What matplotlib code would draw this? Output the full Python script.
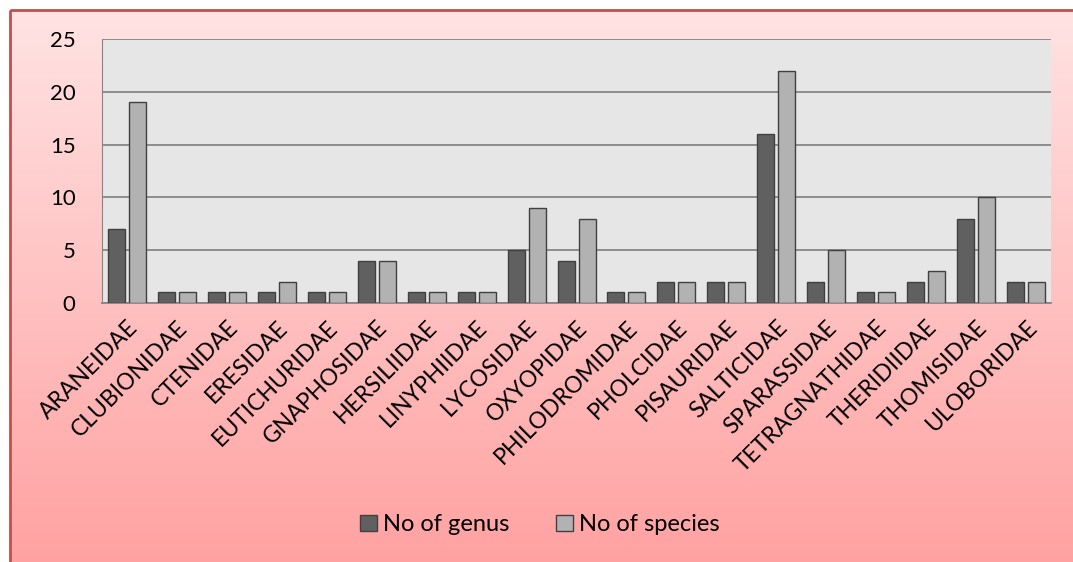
import numpy as np
import matplotlib
matplotlib.use("Agg")
import matplotlib.pyplot as plt
from matplotlib.patches import Rectangle

# datos
familias = ["ARANEIDAE", "CLUBIONIDAE", "CTENIDAE", "ERESIDAE", "EUTICHURIDAE",
            "GNAPHOSIDAE", "HERSILIIDAE", "LINYPHIIDAE", "LYCOSIDAE", "OXYOPIDAE",
            "PHILODROMIDAE", "PHOLCIDAE", "PISAURIDAE", "SALTICIDAE", "SPARASSIDAE",
            "TETRAGNATHIDAE", "THERIDIIDAE", "THOMISIDAE", "ULOBORIDAE"]
genus = [7, 1, 1, 1, 1, 4, 1, 1, 5, 4, 1, 2, 2, 16, 2, 1, 2, 8, 2]
species = [19, 1, 1, 2, 1, 4, 1, 1, 9, 8, 1, 2, 2, 22, 5, 1, 3, 10, 2]

plt.rcParams['font.family'] = ['Lato', 'DejaVu Sans']

fig = plt.figure(figsize=(10.73, 5.62), dpi=100)

# fondo degradado rosa con borde rojo
bg = fig.add_axes([0, 0, 1, 1], zorder=-10)
bg.set_xlim(0, 1073)
bg.set_ylim(562, 0)
bg.axis("off")
grad = np.linspace(0, 1, 256).reshape(-1, 1)
top = np.array([1.0, 0.89, 0.89])
bot = np.array([1.0, 0.63, 0.63])
img = top + grad[..., None] * (bot - top)
bg.imshow(img, extent=[10, 1080, 570, 10], aspect="auto", zorder=0)
bg.add_patch(Rectangle((10, 10), 1075, 560, fill=False, edgecolor="#c0504d", lw=2, zorder=1))

ax = fig.add_axes([0.0951, 0.4609, 0.8844, 0.4697])
ax.set_facecolor("#e6e6e6")
x = np.arange(len(familias))
ancho = 0.34
ax.bar(x - 0.21, genus, ancho, color="#606060", edgecolor="#404040", lw=1, label="No of genus", zorder=3)
ax.bar(x + 0.21, species, ancho, color="#b2b2b2", edgecolor="#404040", lw=1, label="No of species", zorder=3)

ax.set_ylim(0, 25)
ax.set_xlim(-0.5, len(familias) - 0.5)
ax.set_yticks([0, 5, 10, 15, 20, 25])
ax.yaxis.grid(True, color="#868686", lw=1.3, zorder=1)
ax.set_axisbelow(True)
for s in ["top", "right"]:
    ax.spines[s].set_visible(False)
ax.spines["left"].set_color("#868686")
ax.spines["bottom"].set_color("#868686")
ax.spines["bottom"].set_linewidth(1.3)
ax.tick_params(axis="y", length=0, labelsize=16, pad=19)
ax.tick_params(axis="x", length=0, pad=10)
ax.set_xticks(x)
ax.set_xticklabels(familias, rotation=45, ha="right", rotation_mode="anchor", fontsize=16.5)

fig.legend(loc="center", bbox_to_anchor=(0.503, 0.066), ncol=2, frameon=False,
           fontsize=17, handlelength=0.7, handleheight=0.7, handletextpad=0.25, columnspacing=2.0)

fig.savefig("out.png", dpi=100)
